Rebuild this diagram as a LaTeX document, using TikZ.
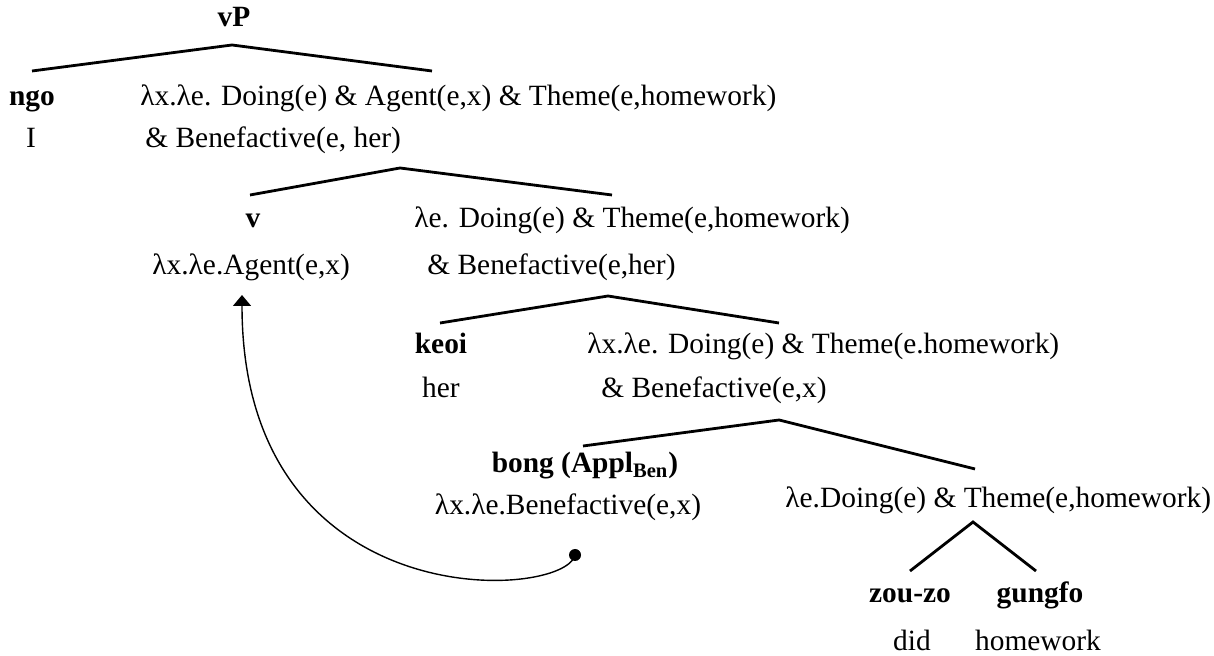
\documentclass[tikz,border=0pt]{standalone}
\usepackage{fontspec}
\setmainfont{Liberation Serif}
\usetikzlibrary{arrows.meta,positioning}
\newcommand{\lamx}{λx.}
\newcommand{\lame}{λe.}

\begin{document}
\begin{tikzpicture}[
    x=0.5pt,y=-0.5pt,
    word/.style={font=\fontsize{14.7}{17}\selectfont\bfseries,inner sep=0pt},
    sem/.style={font=\fontsize{14.7}{17}\selectfont,inner sep=0pt},
    branch/.style={line width=1.4pt},
    move/.style={line width=0.7pt,-{Triangle[width=9pt,length=5.5pt]}},
    >=Stealth
  ]
  \useasboundingbox (0,0) rectangle (1214,656);

  %% vP
  \node[word,anchor=base] (vp) at (234,27) {vP};
  \coordinate (t1) at (232,45);
  \coordinate (t1l) at (32,71);
  \coordinate (t1r) at (432,71);
  \node[word,anchor=base] (ngo) at (32,106) {ngo};
  \node[sem,anchor=base] (ngoI) at (31,148) {I};
  \node[sem,anchor=base west] (s1a) at (140,106) {\lamx\lame{} Doing(e) \& Agent(e,x) \& Theme(e,homework)};
  \node[sem,anchor=base west] (s1b) at (145,148) {\& Benefactive(e, her)};
  \draw[branch] (t1l) -- (t1) -- (t1r);

  %% v'
  \coordinate (t2) at (400,168);
  \coordinate (t2l) at (250,195);
  \coordinate (t2r) at (612,195);
  \node[word,anchor=base] (v) at (253,228) {v};
  \node[sem,anchor=base west] (vsem) at (152,275) {\lamx\lame Agent(e,x)};
  \node[sem,anchor=base west] (s2a) at (414,228) {\lame{} Doing(e) \& Theme(e,homework)};
  \node[sem,anchor=base west] (s2b) at (427,275) {\& Benefactive(e,her)};
  \draw[branch] (t2l) -- (t2) -- (t2r);

  %% ApplP
  \coordinate (t3) at (608,296);
  \coordinate (t3l) at (440,323);
  \coordinate (t3r) at (779,323);
  \node[word,anchor=base] (keoi) at (441,354) {keoi};
  \node[sem,anchor=base] (her) at (441,398) {her};
  \node[sem,anchor=base west] (s3a) at (587,354) {\lamx\lame{} Doing(e) \& Theme(e.homework)};
  \node[sem,anchor=base west] (s3b) at (601,398) {\& Benefactive(e,x)};
  \draw[branch] (t3l) -- (t3) -- (t3r);

  %% Appl'
  \coordinate (t4) at (779,420);
  \coordinate (t4l) at (583,446);
  \coordinate (t4r) at (975,469);
  \node[word,anchor=base] (bong) at (585,473) {bong (Appl\textsubscript{Ben})};
  \node[sem,anchor=base] (bongsem) at (568,515) {\lamx\lame Benefactive(e,x)};
  \node[sem,anchor=base west] (s4) at (785,508) {\lame Doing(e) \& Theme(e,homework)};
  \draw[branch] (t4l) -- (t4) -- (t4r);

  %% VP
  \coordinate (t5) at (973,522);
  \coordinate (t5l) at (910,571);
  \coordinate (t5r) at (1036,571);
  \node[word,anchor=base] (zouzo) at (910,603) {zou-zo};
  \node[word,anchor=base] (gungfo) at (1040,603) {gungfo};
  \node[sem,anchor=base] (did) at (912,650) {did};
  \node[sem,anchor=base] (hw) at (1038,650) {homework};
  \draw[branch] (t5l) -- (t5) -- (t5r);

  %% movement of Appl to v
  \node[circle,fill,inner sep=0pt,minimum size=6pt] (dot) at (575,555) {};
  \coordinate (vtip) at (242,295);
  \draw[move] (dot.center) .. controls (565,600) and (242,620) .. (vtip);
\end{tikzpicture}
\end{document}
